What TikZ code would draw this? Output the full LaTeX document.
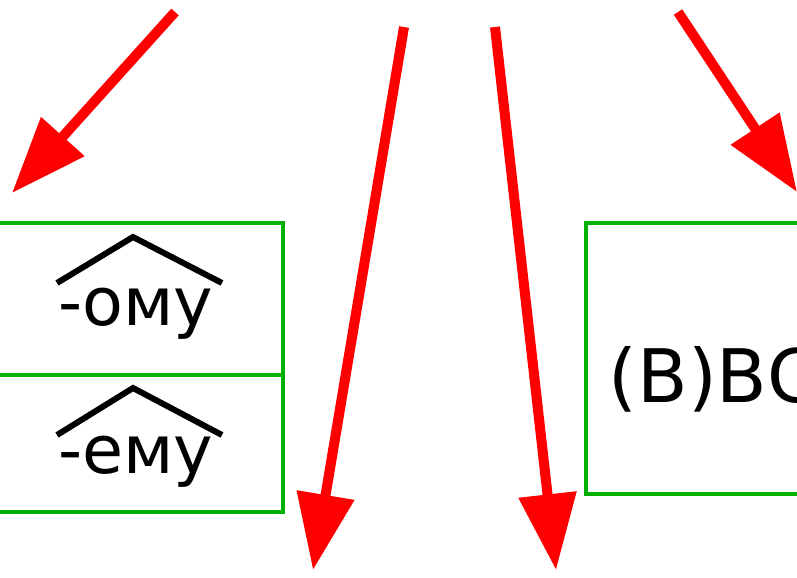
\documentclass[tikz,border=0pt]{standalone}
\usepackage{fontspec}
\setmainfont{DejaVu Sans}
\usetikzlibrary{arrows.meta}
\definecolor{boxgreen}{RGB}{0,176,0}
\tikzset{
  pointer/.style={draw=red,line width=2.85pt,-{Triangle[length=7.6mm,width=5.6mm]}},
  cell/.style={draw=boxgreen,line width=0.9pt},
  hat/.style={draw=black,line width=1.7pt},
  ending/.style={inner sep=0pt,anchor=base,font=\fontsize{19}{19}\selectfont},
}
\begin{document}
\begin{tikzpicture}[scale=1.0]
\useasboundingbox (0,0) rectangle (7.97,-5.77);
% boxes
\draw[cell] (-0.2,-2.23) rectangle (2.83,-3.75);
\draw[cell] (-0.2,-3.75) rectangle (2.83,-5.12);
\draw[cell] (5.86,-2.23) rectangle (8.2,-4.94);
% endings with hats
\node[ending] (omu) at (1.36,-3.25) {-ому};
\node[ending] (emu) at (1.36,-4.73) {-ему};
\draw[hat] (0.57,-2.83) -- (1.33,-2.37) -- (2.22,-2.83);
\draw[hat] (0.57,-4.35) -- (1.33,-3.88) -- (2.22,-4.35);
\node[ending,anchor=base west,font=\fontsize{21}{21}\selectfont] (vvs) at (6.08,-4.02) {(В)ВС};
% arrows
\coordinate (s1) at (1.75,-0.12);
\coordinate (e1) at (0.12,-1.93);
\coordinate (s2) at (4.04,-0.27);
\coordinate (e2) at (3.13,-5.70);
\coordinate (s3) at (4.95,-0.27);
\coordinate (e3) at (5.56,-5.70);
\coordinate (s4) at (6.78,-0.12);
\coordinate (e4) at (7.97,-1.92);
\draw[pointer] (s1) -- (e1);
\draw[pointer] (s2) -- (e2);
\draw[pointer] (s3) -- (e3);
\draw[pointer] (s4) -- (e4);
\end{tikzpicture}
\end{document}
